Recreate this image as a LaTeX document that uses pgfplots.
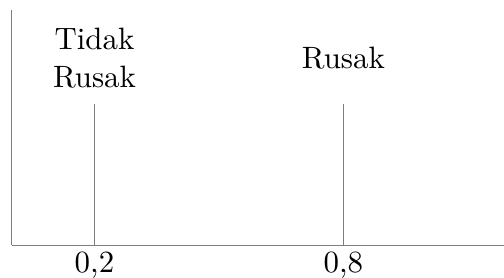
\documentclass[border=0pt]{standalone}
\usepackage{fontspec}
\setmainfont{lmroman10-regular.otf}
\usepackage{pgfplots}
\pgfplotsset{compat=1.18}
\definecolor{axgray}{RGB}{125,125,125}
\begin{document}
\fontsize{31}{38}\selectfont
\begin{tikzpicture}
\path[use as bounding box] (0,0) rectangle (504bp,278bp);
\begin{axis}[
  at={(11.5bp,33bp)}, anchor=south west,
  scale only axis, width=492.5bp, height=235bp,
  xmin=0, xmax=1.187, ymin=0, ymax=1,
  axis lines*=left,
  axis line style={axgray, line width=0.9bp},
  xtick={0.2,0.8}, xticklabels={{0,2},{0,8}},
  ytick=\empty,
  major tick length=0pt,
  /pgf/number format/assume math mode=true,
  xticklabel style={font=\fontsize{31}{38}\selectfont, inner sep=0pt, anchor=north, yshift=-7bp},
  clip=false,
]
\addplot[ycomb, no marks, axgray, line width=0.9bp] coordinates {(0.2,0.6) (0.8,0.6)};
\node[anchor=south, inner sep=0pt, align=center, yshift=16bp] at (axis cs:0.2,0.6) {Tidak\\Rusak};
\node[anchor=south, inner sep=0pt, yshift=35bp] at (axis cs:0.8,0.6) {Rusak};
\end{axis}
\end{tikzpicture}
\end{document}
